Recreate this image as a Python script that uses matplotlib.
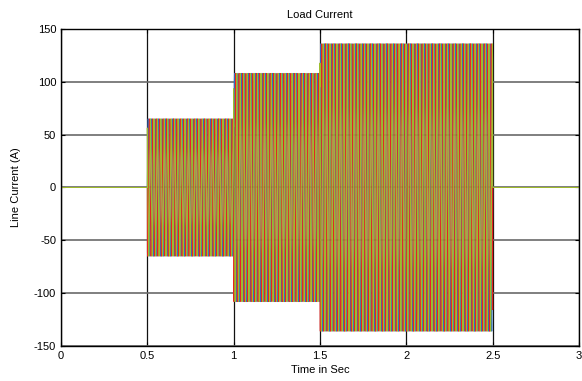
import numpy as np
import matplotlib
matplotlib.use("Agg")
import matplotlib.pyplot as plt

plt.rcParams["font.family"] = ["Liberation Sans", "DejaVu Sans"]
plt.rcParams["axes.unicode_minus"] = False

# load steps: time breakpoints (s) and peak current (A) in each interval
step_edges = [0.0, 0.5, 1.0, 1.5, 2.5, 3.0]
step_peaks = [0.0, 65.0, 108.0, 136.0, 0.0]
freq_hz = 50.0
phase_shift_deg = [0.0, -120.0, 120.0]
phase_colors = ["#2f6fc4", "#e8231f", "#9dbd2c"]

t = np.arange(0.0, 3.0, 1e-4)
amp = np.zeros_like(t)
for lo, hi, a in zip(step_edges[:-1], step_edges[1:], step_peaks):
    amp[(t >= lo) & (t < hi)] = a

fig = plt.figure(figsize=(5.82, 3.81), dpi=100)
ax = fig.add_axes([0.1048, 0.0919, 0.89, 0.832])

for ph, c in zip(phase_shift_deg, phase_colors):
    ax.plot(t, amp * np.sin(2 * np.pi * freq_hz * t + np.deg2rad(ph)), color=c, lw=0.7)

ax.set_xlim(0, 3)
ax.set_ylim(-150, 150)
ax.set_xticks([0, 0.5, 1, 1.5, 2, 2.5, 3])
ax.set_xticklabels(["0", "0.5", "1", "1.5", "2", "2.5", "3"])
ax.set_yticks([-150, -100, -50, 0, 50, 100, 150])
ax.xaxis.grid(True, color="#111111", lw=0.9)
ax.yaxis.grid(True, color="#6a6a6a", lw=1.2)
ax.set_axisbelow(True)
ax.tick_params(direction="in", labelsize=8, length=3, top=True, right=True)
for s in ax.spines.values():
    s.set_linewidth(1.0)
ax.set_title("Load Current", fontsize=8, pad=8)
ax.set_xlabel("Time in Sec", fontsize=8, labelpad=3)
ax.set_ylabel("Line Current (A)", fontsize=8, labelpad=9)

fig.savefig("out.png", dpi=100)
